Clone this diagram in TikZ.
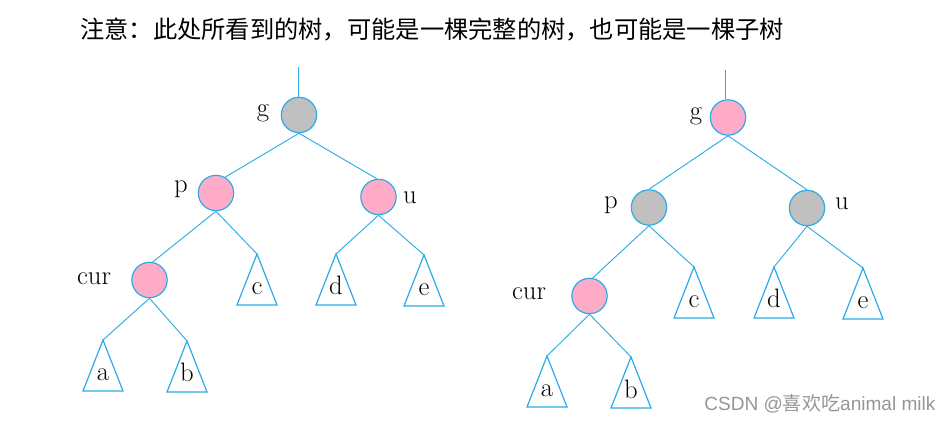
\documentclass[tikz,border=0pt]{standalone}
\usepackage{fontspec}
\usepackage{tikz}
\newfontfamily\cjkfont{Noto Sans CJK SC}
\newfontfamily\wmfont{Liberation Sans}
\definecolor{edgeblue}{RGB}{45,170,230}
\definecolor{nodepink}{RGB}{255,172,200}
\definecolor{nodegray}{RGB}{192,192,192}
\definecolor{markgray}{RGB}{150,150,150}

\begin{document}
\begin{tikzpicture}[x=0.75pt,y=0.75pt,yscale=-1,xscale=1,
  rbnode/.style={circle,draw=edgeblue,line width=0.9pt,minimum size=26.5pt,inner sep=0pt},
  rednode/.style={rbnode,fill=nodepink},
  blknode/.style={rbnode,fill=nodegray},
  link/.style={draw=edgeblue,line width=0.7pt},
  subtri/.style={draw=edgeblue,line width=0.9pt},
  lbl/.style={inner sep=0pt,font=\fontsize{20}{20}\selectfont}]
\useasboundingbox (0,0) rectangle (952,423);

% Title
\node [anchor=west,inner sep=0pt,font=\cjkfont\fontsize{18.2}{18.2}\selectfont] (title) at (80,30) {注意：此处所看到的树，可能是一棵完整的树，也可能是一棵子树};

%%%% left tree
\coordinate (lroot) at (298,67);
\node [blknode] (g1) at (299,115) {};
\node [rednode] (p1) at (216,193) {};
\node [rednode] (u1) at (378.5,197) {};
\node [rednode] (cur1) at (149.5,280) {};

% Subtrees
\foreach \n/\x/\y/\t in {c1/257/254/c, d1/336/254/d, e1/424/255/e, a1/103/340/a, b1/187/341/b}{
  \coordinate (\n) at (\x,\y);
  \draw [subtri] (\n) -- ++(20,51) -- ++(-40,0) -- cycle;
  \path (\n) ++(0,41) node [lbl,anchor=base] (\n lbl) {\t};
}

% Links
\draw [link] (lroot) -- (lroot |- g1.north);
\draw [link] (g1.south) -- (p1.60);
\draw [link] (g1.south) -- (u1.95);
\draw [link] (p1.south) -- (cur1.80);
\draw [link] (p1.south) -- (c1);
\draw [link] (u1.south) -- (d1);
\draw [link] (u1.south) -- (e1);
\draw [link] (cur1.south) -- (a1);
\draw [link] (cur1.south) -- (b1);

% Text Node
\node [lbl] (glbl1) at (263,113.5) {g};
\node [lbl] (plbl1) at (181,189.5) {p};
\node [lbl] (ulbl1) at (410,197.5) {u};
\node [lbl] (curlbl1) at (94,278.5) {cur};

%%%% right tree
\coordinate (rroot) at (725,70);
\node [rednode] (g2) at (728,117.5) {};
\node [blknode] (p2) at (649,207.5) {};
\node [blknode] (u2) at (807,208) {};
\node [rednode] (cur2) at (589.5,296) {};

% Subtrees
\foreach \n/\x/\y/\t in {c2/694/267/c, d2/774/267/d, e2/863/268/e, a2/547/356/a, b2/631/357/b}{
  \coordinate (\n) at (\x,\y);
  \draw [subtri] (\n) -- ++(20,51) -- ++(-40,0) -- cycle;
  \path (\n) ++(0,41) node [lbl,anchor=base] (\n lbl) {\t};
}

% Links
\draw [link] (rroot) -- (rroot |- g2.north);
\draw [link] (g2.south) -- (p2.north);
\draw [link] (g2.south) -- (u2.north);
\draw [link] (p2.south) -- (cur2.80);
\draw [link] (p2.south) -- (c2);
\draw [link] (u2.south) -- (d2);
\draw [link] (u2.south) -- (e2);
\draw [link] (cur2.south) -- (a2);
\draw [link] (cur2.south) -- (b2);

% Text Node
\node [lbl] (glbl2) at (696,116.5) {g};
\node [lbl] (plbl2) at (611,205) {p};
\node [lbl] (ulbl2) at (842,203.5) {u};
\node [lbl] (curlbl2) at (529,294) {cur};

% Watermark
\node [anchor=west,inner sep=0pt,text=markgray,font=\wmfont\fontsize{14.3}{14.3}\selectfont] (mark) at (704,404) {CSDN @{\cjkfont 喜欢吃}animal milk};

\end{tikzpicture}
\end{document}
